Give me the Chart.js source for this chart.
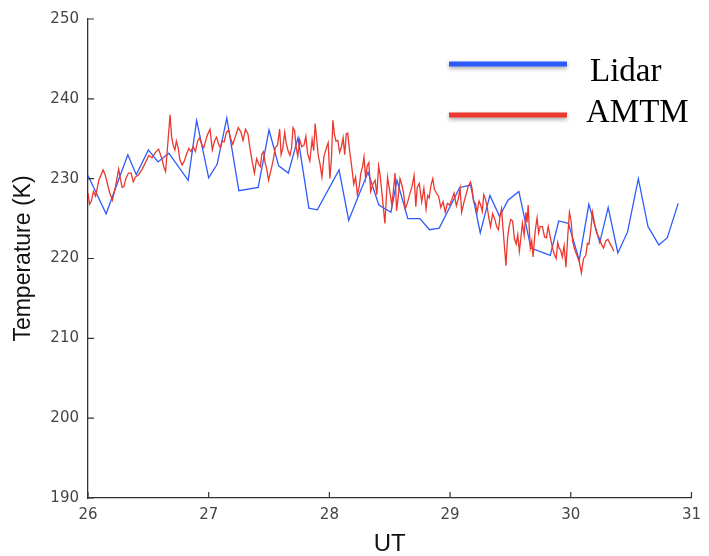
<!DOCTYPE html>
<html>
<head>
<meta charset="utf-8">
<script src="https://cdn.jsdelivr.net/npm/chart.js@4"></script>
<style>
  body { margin: 0; background: #fff; }
  canvas { display: block; }
</style>
</head>
<body>
<canvas id="myChart" width="709" height="556"></canvas>
<script>
// Lidar temperature (blue)
const lidarUT = [26.00, 26.15, 26.33, 26.40, 26.50, 26.58, 26.67, 26.83, 26.90, 27.00,
    27.07, 27.15, 27.25, 27.41, 27.50, 27.58, 27.66, 27.74, 27.83, 27.90,
    28.08, 28.16, 28.32, 28.41, 28.51, 28.56, 28.65, 28.75, 28.83, 28.91,
    29.08, 29.17, 29.25, 29.33, 29.41, 29.48, 29.57, 29.67, 29.83, 29.90,
    29.98, 30.07, 30.15, 30.24, 30.31, 30.39, 30.47, 30.56, 30.64, 30.73,
    30.80, 30.89];
const lidarT = [230.4, 225.6, 233.0, 230.5, 233.6, 232.1, 233.2, 229.8, 237.3, 230.1,
    231.8, 237.6, 228.5, 228.9, 236.1, 231.6, 230.7, 235.1, 226.3, 226.1,
    231.1, 224.8, 230.8, 226.7, 225.8, 229.8, 225.0, 225.0, 223.6, 223.8,
    228.9, 229.2, 223.2, 227.9, 225.3, 227.3, 228.4, 221.3, 220.4, 224.7,
    224.4, 219.8, 226.8, 222.0, 226.4, 220.7, 223.3, 230.0, 224.0, 221.7,
    222.6, 226.9];

// AMTM temperature (red), main readings
const amtmUT = [26.000, 26.026, 26.063, 26.125, 26.154, 26.202, 26.254, 26.283, 26.313, 26.357,
    26.393, 26.449, 26.504, 26.559, 26.614, 26.643, 26.680, 26.706, 26.732, 26.761,
    26.798, 26.835, 26.871, 26.908, 26.945, 26.974, 27.011, 27.048, 27.085, 27.110,
    27.147, 27.184, 27.221, 27.268, 27.305, 27.342, 27.379, 27.415, 27.441, 27.467,
    27.496, 27.533, 27.570, 27.588, 27.614, 27.643, 27.673, 27.699, 27.724, 27.754,
    27.790, 27.820, 27.857, 27.882, 27.908, 27.938, 27.974, 28.004, 28.029, 28.055,
    28.085, 28.114, 28.140, 28.165, 28.202, 28.232, 28.261, 28.287, 28.313, 28.342,
    28.379, 28.408, 28.434, 28.460, 28.482, 28.518, 28.544, 28.570, 28.599, 28.629,
    28.665, 28.702, 28.728, 28.765, 28.801, 28.827, 28.857, 28.886, 28.923, 28.960,
    28.996, 29.033, 29.070, 29.096, 29.132, 29.169, 29.195, 29.224, 29.254, 29.279,
    29.305, 29.335, 29.371, 29.401, 29.426, 29.463, 29.489, 29.518, 29.548, 29.574,
    29.599, 29.629, 29.647, 29.665, 29.688, 29.721, 29.746, 29.783, 29.813, 29.849,
    29.879, 29.904, 29.930, 29.960, 29.989, 30.015, 30.051, 30.088, 30.125, 30.151,
    30.180, 30.217, 30.254, 30.290, 30.327, 30.357];
const amtmT = [228.2, 227.1, 227.8, 231.1, 229.8, 227.3, 231.2, 228.9, 230.0, 230.7,
    230.2, 231.2, 232.9, 233.3, 232.4, 230.9, 238.0, 234.2, 234.7, 232.4,
    232.2, 233.8, 234.0, 234.7, 234.2, 234.7, 236.2, 234.7, 234.2, 234.7,
    235.8, 234.9, 235.3, 235.8, 236.2, 233.8, 230.7, 231.8, 233.1, 232.0,
    229.8, 232.2, 234.2, 236.2, 233.8, 234.4, 232.9, 236.4, 234.0, 234.9,
    234.2, 233.1, 234.9, 236.9, 232.9, 230.2, 233.8, 230.0, 237.3, 234.7,
    233.3, 235.1, 235.6, 233.8, 229.3, 228.0, 230.7, 232.7, 231.6, 228.4,
    229.8, 231.6, 228.4, 224.4, 230.2, 226.7, 230.7, 227.6, 229.3, 226.2,
    228.0, 230.4, 228.9, 227.1, 226.2, 227.6, 230.0, 228.2, 226.4, 225.8,
    226.7, 228.2, 227.6, 225.8, 228.0, 229.6, 227.1, 225.8, 226.7, 228.0,
    226.7, 224.0, 224.9, 223.6, 226.2, 219.1, 224.0, 224.7, 221.8, 220.9,
    224.4, 225.8, 226.7, 221.3, 220.2, 225.1, 224.0, 222.7, 224.0, 221.3,
    220.0, 221.3, 220.2, 218.9, 225.8, 222.2, 220.4, 218.2, 220.4, 221.8,
    225.8, 223.1, 221.8, 222.2, 221.8, 220.9];

// AMTM, finer readings of the short wiggles between the main points
const amtmUT2 = [26.013, 26.045, 26.090, 26.140, 26.178, 26.228, 26.268, 26.298, 26.335, 26.375,
    26.420, 26.475, 26.530, 26.585, 26.628, 26.693, 26.720, 26.748, 26.780, 26.815,
    26.853, 26.890, 26.925, 26.960, 26.990, 27.030, 27.065, 27.097, 27.128, 27.165,
    27.200, 27.245, 27.285, 27.325, 27.360, 27.397, 27.428, 27.455, 27.480, 27.515,
    27.552, 27.600, 27.630, 27.658, 27.687, 27.712, 27.738, 27.770, 27.805, 27.838,
    27.870, 27.923, 27.955, 27.990, 28.017, 28.042, 28.070, 28.100, 28.127, 28.152,
    28.185, 28.217, 28.247, 28.275, 28.300, 28.327, 28.360, 28.393, 28.420, 28.531,
    28.557, 28.585, 28.614, 28.647, 28.684, 28.716, 28.745, 28.783, 28.814, 28.842,
    28.870, 28.905, 28.942, 28.978, 29.015, 29.052, 29.083, 29.114, 29.150, 29.182,
    29.210, 29.240, 29.267, 29.292, 29.320, 29.353, 29.386, 29.414, 29.476, 29.503,
    29.533, 29.561, 29.587, 29.614, 29.638, 29.656, 29.677, 29.705, 29.734, 29.765,
    29.798, 29.831, 29.864, 29.892, 29.917, 29.945, 29.975, 30.003, 30.033, 30.070,
    30.106, 30.138, 30.166, 30.200, 30.235, 30.272, 30.308, 30.342];
const amtmT2 = [226.8, 228.4, 229.8, 230.6, 228.3, 229.0, 230.0, 229.0, 230.7, 229.6,
    230.5, 232.0, 232.6, 233.7, 231.5, 235.2, 233.6, 233.8, 231.7, 233.0,
    233.4, 233.4, 235.1, 233.9, 235.5, 233.6, 235.2, 233.9, 234.6, 236.1,
    234.3, 236.4, 234.8, 235.6, 232.2, 232.5, 231.5, 233.4, 231.3, 231.0,
    233.9, 233.0, 235.8, 233.5, 233.9, 236.0, 232.8, 234.0, 235.3, 232.2,
    233.5, 231.8, 232.8, 234.5, 232.5, 235.5, 234.8, 234.0, 233.0, 235.7,
    231.5, 230.2, 229.0, 231.5, 230.1, 232.0, 229.3, 228.0, 230.5, 228.6,
    226.0, 230.0, 228.3, 227.0, 229.0, 226.5, 229.4, 228.8, 227.9, 229.2,
    228.7, 227.8, 227.1, 226.9, 227.4, 226.6, 228.8, 227.0, 229.0, 228.8,
    226.9, 227.2, 225.9, 227.5, 225.2, 225.6, 224.0, 225.3, 222.5, 224.9,
    222.5, 223.0, 222.6, 222.9, 224.5, 223.8, 222.2, 223.4, 223.2, 224.0,
    222.6, 222.6, 220.5, 222.0, 221.0, 221.6, 222.8, 224.7, 221.1, 219.6,
    220.0, 221.9, 223.6, 224.1, 222.6, 221.3, 222.4, 221.4];

const xTicks = [26, 27, 28, 29, 30, 31];
const yTicks = [190, 200, 210, 220, 230, 240, 250];
const seriesNames = ['Lidar', 'AMTM'];

const blue = 'rgb(45, 90, 250)';
const red = 'rgb(235, 55, 45)';

function toPoints(xs, ys) {
    return xs.map(function (x, i) { return { x: x, y: ys[i] }; });
}

const amtmPoints = toPoints(amtmUT, amtmT).concat(toPoints(amtmUT2, amtmT2));
amtmPoints.sort(function (a, b) { return a.x - b.x; });

// MATLAB style inward tick marks
const innerTicks = {
    id: 'innerTicks',
    afterDraw: (chart) => {
        const ctx = chart.ctx;
        const xs = chart.scales.x, ys = chart.scales.y;
        const a = chart.chartArea;
        ctx.save();
        ctx.strokeStyle = '#333';
        ctx.lineWidth = 1.2;
        ctx.beginPath();
        xTicks.forEach(function (v) {
            const px = xs.getPixelForValue(v);
            ctx.moveTo(px, a.bottom);
            ctx.lineTo(px, a.bottom - 6);
        });
        yTicks.forEach(function (v) {
            const py = ys.getPixelForValue(v);
            ctx.moveTo(a.left, py);
            ctx.lineTo(a.left + 6, py);
        });
        ctx.stroke();
        ctx.restore();
    }
};

// legend drawn like the original overlay
const bigLegend = {
    id: 'bigLegend',
    afterDraw: (chart) => {
        const ctx = chart.ctx;
        const items = [
            { color: blue, y: 64 },
            { color: red, y: 115 }
        ];
        ctx.save();
        items.forEach(function (it) {
            ctx.save();
            ctx.shadowColor = 'rgba(0,0,0,0.35)';
            ctx.shadowBlur = 4;
            ctx.shadowOffsetY = 2;
            ctx.strokeStyle = it.color;
            ctx.lineWidth = 5;
            ctx.beginPath();
            ctx.moveTo(449, it.y);
            ctx.lineTo(567, it.y);
            ctx.stroke();
            ctx.restore();
        });
        ctx.fillStyle = '#000';
        ctx.font = '33px "Liberation Serif", "DejaVu Serif", serif';
        ctx.textBaseline = 'alphabetic';
        ctx.fillText(seriesNames[0], 590, 81);
        ctx.fillText(seriesNames[1], 586, 122);
        ctx.restore();
    }
};

const ctx = document.getElementById('myChart').getContext('2d');
const config = {
    type: 'line',
    data: {
        datasets: [{
            label: seriesNames[1],
            data: amtmPoints,
            borderColor: red,
            borderWidth: 1.3,
            pointRadius: 0,
            tension: 0
        }, {
            label: seriesNames[0],
            data: toPoints(lidarUT, lidarT),
            borderColor: blue,
            borderWidth: 1.3,
            pointRadius: 0,
            tension: 0
        }]
    },
    options: {
        responsive: false,
        animation: false,
        layout: { padding: { left: 0, right: 6, top: 19, bottom: 0 } },
        plugins: {
            legend: { display: false },
            tooltip: { enabled: false }
        },
        scales: {
            x: {
                type: 'linear',
                min: 26,
                max: 31,
                afterFit: function (s) { s.height = 58; },
                afterBuildTicks: function (s) { s.ticks = xTicks.map(function (v) { return { value: v }; }); },
                grid: { display: false, drawTicks: false },
                border: { display: true, color: '#333', width: 1.3 },
                ticks: {
                    padding: 8,
                    color: '#444',
                    font: { family: '"DejaVu Sans", sans-serif', size: 15 }
                },
                title: {
                    display: true,
                    text: 'UT',
                    color: '#111',
                    padding: { top: 0, bottom: 0 },
                    font: { family: '"Liberation Sans", Arial, sans-serif', size: 24, lineHeight: 1 }
                }
            },
            y: {
                type: 'linear',
                min: 190,
                max: 250,
                afterFit: function (s) { s.width = 88; },
                afterBuildTicks: function (s) { s.ticks = yTicks.map(function (v) { return { value: v }; }); },
                grid: { display: false, drawTicks: false },
                border: { display: true, color: '#333', width: 1.3 },
                ticks: {
                    padding: 9,
                    color: '#444',
                    font: { family: '"DejaVu Sans", sans-serif', size: 15 }
                },
                title: {
                    display: true,
                    text: 'Temperature (K)',
                    color: '#111',
                    padding: { top: 12, bottom: 0 },
                    font: { family: '"Liberation Sans", Arial, sans-serif', size: 23, lineHeight: 1 }
                }
            }
        }
    },
    plugins: [innerTicks, bigLegend]
};
const myChart = new Chart(ctx, config);
</script>
</body>
</html>
